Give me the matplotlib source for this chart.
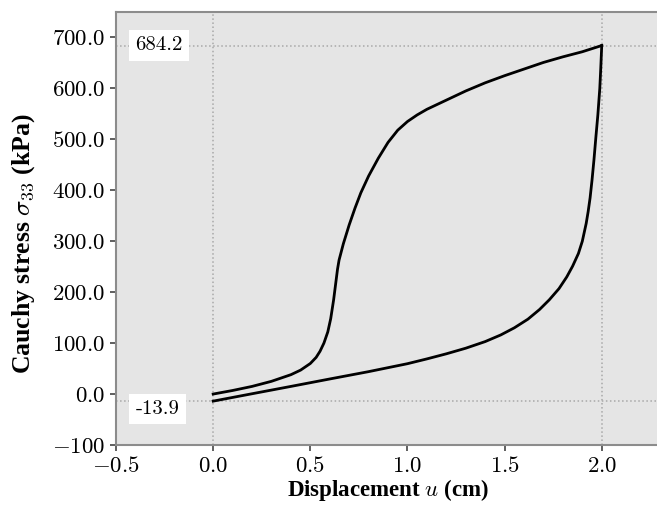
"""Cauchy stress vs displacement loading/unloading loop."""

import matplotlib

matplotlib.use("Agg")
import matplotlib.pyplot as plt
from matplotlib.ticker import FixedLocator, FixedFormatter

plt.rcParams["font.family"] = "serif"
plt.rcParams["font.serif"] = ["cmr10", "DejaVu Serif"]
plt.rcParams["mathtext.fontset"] = "cm"
plt.rcParams["axes.unicode_minus"] = False

# loading branch (cm, kPa)
load_u = [0.0, 0.1, 0.2, 0.3, 0.4, 0.45, 0.5, 0.53, 0.55, 0.57, 0.59, 0.605,
          0.62, 0.63, 0.64, 0.648, 0.67, 0.70, 0.73, 0.76, 0.80, 0.85, 0.90,
          0.95, 1.00, 1.05, 1.10, 1.20, 1.30, 1.40, 1.50, 1.60, 1.70, 1.80,
          1.90, 2.0]
load_s = [0.0, 7, 15, 25, 38, 47, 60, 72, 84, 100, 122, 148,
          185, 215, 245, 263, 295, 332, 365, 395, 428, 463, 494,
          518, 535, 548, 559, 577, 595, 611, 625, 638, 651, 662,
          672, 684.2]

# unloading branch
unload_u = [2.0, 1.995, 1.99, 1.98, 1.97, 1.96, 1.95, 1.94, 1.93, 1.92, 1.90,
            1.88, 1.85, 1.82, 1.78, 1.73, 1.68, 1.62, 1.55, 1.48, 1.40, 1.30,
            1.20, 1.10, 1.00, 0.80, 0.60, 0.40, 0.20, 0.0]
unload_s = [684.2, 640, 600, 548, 505, 460, 420, 385, 358, 335, 300,
            276, 251, 230, 207, 185, 166, 147, 130, 116, 103, 90,
            79, 69, 59.6, 44, 29.6, 15, 0.6, -13.9]

peak_stress = 684.2
final_stress = -13.9

xticks = [-0.5, 0.0, 0.5, 1.0, 1.5, 2.0]
xticklabels = ["$-0.5$", "$0.0$", "$0.5$", "$1.0$", "$1.5$", "$2.0$"]
yticks = [-100, 0, 100, 200, 300, 400, 500, 600, 700]
yticklabels = ["$-100$", "$0.0$", "$100.0$", "$200.0$", "$300.0$", "$400.0$",
               "$500.0$", "$600.0$", "$700.0$"]

fig = plt.figure(figsize=(6.57, 5.07), dpi=100)
ax = fig.add_axes([0.1766, 0.1223, 0.8280, 0.8540])
ax.set_facecolor("#e5e5e5")

ax.set_xlim(-0.5, 2.3)
ax.set_ylim(-100, 750)

# reference lines
for xv in (0.0, 2.0):
    ax.axvline(xv, color="#a8a8a8", ls=":", lw=1.1, zorder=1)
for yv in (peak_stress, final_stress):
    ax.axhline(yv, color="#a8a8a8", ls=":", lw=1.1, zorder=1)

ax.plot(load_u, load_s, color="black", lw=2.0, zorder=3,
        solid_joinstyle="round")
ax.plot(unload_u, unload_s, color="black", lw=2.0, zorder=3,
        solid_joinstyle="round")

box = dict(boxstyle="square,pad=0.3", fc="white", ec="none")
ax.text(-0.40, peak_stress, f"{peak_stress:.1f}", fontsize=15, va="center",
        ha="left", bbox=box, zorder=4)
ax.text(-0.40, final_stress - 16, f"{final_stress:.1f}", fontsize=15,
        va="center", ha="left", bbox=box, zorder=4)

ax.xaxis.set_major_locator(FixedLocator(xticks))
ax.xaxis.set_major_formatter(FixedFormatter(xticklabels))
ax.yaxis.set_major_locator(FixedLocator(yticks))
ax.yaxis.set_major_formatter(FixedFormatter(yticklabels))
ax.tick_params(axis="both", labelsize=16.5, length=4, width=1.2,
               color="#444444", direction="out", pad=4)

for side in ("left", "bottom", "top"):
    ax.spines[side].set_color("#8c8c8c")
    ax.spines[side].set_linewidth(1.5)
ax.spines["right"].set_visible(False)

ax.set_xlabel(r"Displacement $u$ (cm)", fontsize=16.5, fontweight="bold",
              family="Liberation Serif", labelpad=1)
ax.set_ylabel(r"Cauchy stress $\sigma_{33}$ (kPa)", fontsize=18.5,
              fontweight="bold", family="Liberation Serif")
ax.yaxis.set_label_coords(-0.145, 0.465)

fig.savefig("out.png", dpi=100, facecolor="white")
